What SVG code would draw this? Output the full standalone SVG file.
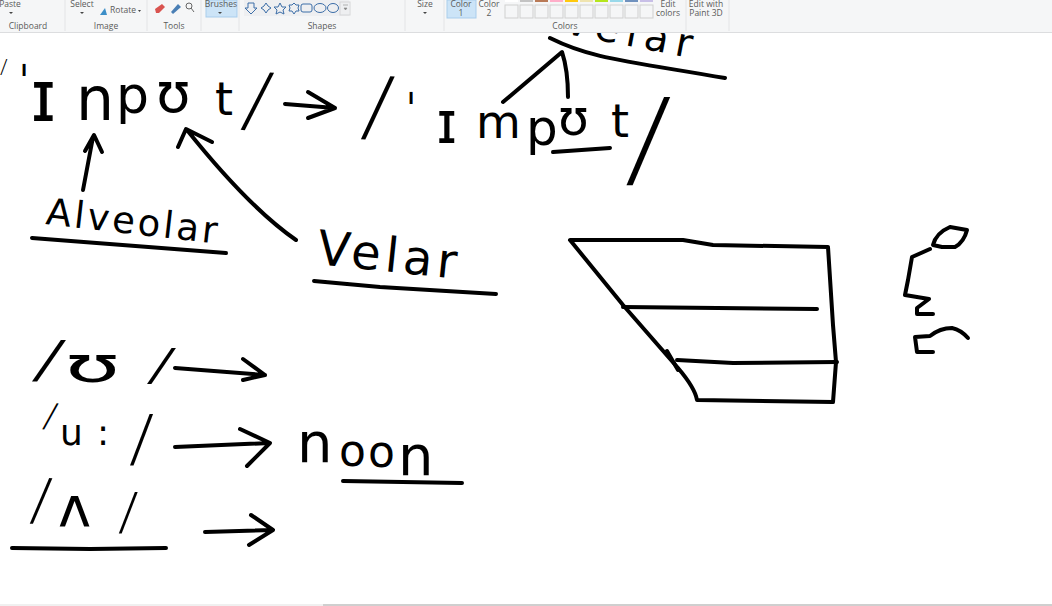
<svg xmlns="http://www.w3.org/2000/svg" width="1052" height="606" viewBox="0 0 1052 606">
<defs><style>
.ink{fill:none;stroke:#000;stroke-width:4;stroke-linecap:round;stroke-linejoin:round}
.w{font-family:"DejaVu Sans",sans-serif;fill:#000}
.sl{font-family:"Roboto","Liberation Sans",sans-serif;font-weight:300}
.r{font-family:"Open Sans","Liberation Sans",sans-serif;font-size:8.5px;fill:#5a5a5a;text-anchor:middle}
.sw{fill:#f5f6f7;stroke:#cfcfcf;stroke-width:1}
.sep{stroke:#e3e4e6;stroke-width:1}
.ic{fill:none;stroke:#3c6ea8;stroke-width:1}
</style></defs>
<rect width="1052" height="606" fill="#fff"/>

<g id="word-velar-top"><text class="w" font-size="40" transform="translate(562,33) rotate(11)" textLength="130">Velar</text></g>

<g id="ribbon">
<rect width="1052" height="32" fill="#f5f6f7"/>
<rect y="32" width="1052" height="1" fill="#dcdddf"/>
<g>
<line class="sep" x1="65" y1="0" x2="65" y2="31"/><line class="sep" x1="147" y1="0" x2="147" y2="31"/><line class="sep" x1="201" y1="0" x2="201" y2="31"/><line class="sep" x1="239" y1="0" x2="239" y2="31"/><line class="sep" x1="405" y1="0" x2="405" y2="31"/><line class="sep" x1="444" y1="0" x2="444" y2="31"/><line class="sep" x1="686" y1="0" x2="686" y2="31"/><line class="sep" x1="729" y1="0" x2="729" y2="31"/>
</g>
<rect x="206" y="0" width="31" height="17" fill="#cce4f7" stroke="#a9cdec"/>
<rect x="447" y="0" width="29" height="18" fill="#cce4f7" stroke="#a9cdec"/>
<rect x="244" y="0" width="105" height="16" fill="#eeeff1"/>
<text class="r" x="10" y="7">Paste</text><text class="r" x="82" y="7">Select</text><text class="r" x="123" y="13">Rotate</text><text class="r" x="221" y="7">Brushes</text><text class="r" x="425" y="7">Size</text>
<text class="r" x="461" y="7">Color</text><text class="r" x="461" y="16">1</text><text class="r" x="489" y="7">Color</text><text class="r" x="489" y="16">2</text>
<text class="r" x="668" y="7">Edit</text><text class="r" x="668" y="16">colors</text><text class="r" x="706" y="7">Edit with</text><text class="r" x="706" y="16">Paint 3D</text>
<text class="r" x="28" y="29">Clipboard</text><text class="r" x="106" y="29">Image</text><text class="r" x="174" y="29">Tools</text><text class="r" x="322" y="29">Shapes</text><text class="r" x="565" y="29">Colors</text>
<path d="M9 12h4l-2 2zM80 12h4l-2 2zM218 12h4l-2 2zM423 12h4l-2 2zM138 10h3l-1.500 2z" fill="#444"/>
<path d="M100 15l5-7 2 7z" fill="#3c8fc8"/>
<path d="M155 9l7-5 3 3-6 6h-3z" fill="#d9534f"/><path d="M171 12l7-8 3 3-8 7z" fill="#4a7fb5"/><circle cx="189" cy="6" r="3" fill="none" stroke="#666"/><path d="M191 8l3 4" stroke="#666"/>
<path class="ic" d="M248 3h6v5h3l-6 6-6-6h3zM266 3l2 3 3 2-3 2-2 3-2-3-3-2 3-2zM280 3l2 4 4 0-3 3 1 4-4-2-4 2 1-4-3-3 4 0zM294 3l2 2h3l-1 3 1 3h-3l-2 3-2-3h-3l1-3-1-3h3z"/>
<rect class="ic" x="301" y="4" width="11" height="8" rx="2"/><ellipse class="ic" cx="320" cy="8" rx="6" ry="4.500"/><ellipse class="ic" cx="333" cy="8" rx="5.500" ry="4.500"/>
<path d="M343 5h5M344 8h3l-1.500 2z" stroke="#888" fill="#888" stroke-width=".6"/>
<rect x="340" y="2" width="10" height="13" fill="none" stroke="#d5d6d8"/>
<g>
<rect class="sw" x="505" y="5" width="13" height="13"/><rect class="sw" x="520" y="5" width="13" height="13"/><rect class="sw" x="535" y="5" width="13" height="13"/><rect class="sw" x="550" y="5" width="13" height="13"/><rect class="sw" x="565" y="5" width="13" height="13"/><rect class="sw" x="580" y="5" width="13" height="13"/><rect class="sw" x="595" y="5" width="13" height="13"/><rect class="sw" x="610" y="5" width="13" height="13"/><rect class="sw" x="625" y="5" width="13" height="13"/><rect class="sw" x="640" y="5" width="13" height="13"/>
<rect x="505" y="0" width="13" height="2" fill="#fff"/><rect x="520" y="0" width="13" height="2" fill="#c3c3c3"/><rect x="535" y="0" width="13" height="2" fill="#b97a57"/><rect x="550" y="0" width="13" height="2" fill="#ffaec9"/><rect x="565" y="0" width="13" height="2" fill="#ffc90e"/><rect x="580" y="0" width="13" height="2" fill="#efe4b0"/><rect x="595" y="0" width="13" height="2" fill="#b5e61d"/><rect x="610" y="0" width="13" height="2" fill="#99d9ea"/><rect x="625" y="0" width="13" height="2" fill="#7092be"/><rect x="640" y="0" width="13" height="2" fill="#c8bfe7"/>
</g>
</g>

<g id="word-input"><text class="w" font-size="62"><tspan class="sl" x="0" y="74" font-size="20">/</tspan><tspan x="18" y="98" font-size="44">ˈ</tspan><tspan x="30" y="121" font-size="72">ɪ</tspan><tspan x="76" y="120" font-size="60">n</tspan><tspan x="116" y="113" font-size="52">p</tspan><tspan x="156" y="112" font-size="56">ʊ</tspan><tspan x="215" y="115" font-size="46">t</tspan><tspan class="sl" x="240" y="125" font-size="78" rotate="6">/</tspan></text></g>
<g id="word-import"><text class="w" font-size="54"><tspan class="sl" x="360" y="134" font-size="84" rotate="4">/</tspan><tspan x="405" y="126" font-size="44">ˈ</tspan><tspan x="436" y="143" font-size="58">ɪ</tspan><tspan x="476" y="138" font-size="46">m</tspan><tspan x="526" y="145" font-size="50">p</tspan><tspan x="558" y="135" font-size="50">ʊ</tspan><tspan x="611" y="137" font-size="46">t</tspan><tspan class="sl" x="625" y="178" font-size="116" rotate="2">/</tspan></text></g>
<g id="word-alveolar"><text class="w" font-size="37" transform="translate(45,224) rotate(6.500)" textLength="172">Alveolar</text></g>
<g id="word-velar"><text class="w" font-size="48" transform="translate(316,264) rotate(6)" textLength="140">Velar</text></g>
<g id="phoneme-short-u"><text class="w" font-size="50" transform="scale(1.8,1)"><tspan class="sl" x="17" y="378" font-size="54">/</tspan><tspan x="36" y="382">ʊ</tspan><tspan class="sl" x="81" y="381" font-size="46">/</tspan></text></g>
<g id="phoneme-long-u"><text class="w" font-size="36"><tspan class="sl" x="42" y="427" rotate="8">/</tspan><tspan x="60" y="445">u</tspan><tspan x="97" y="445">:</tspan><tspan class="sl" x="129" y="462" font-size="66">/</tspan></text></g>
<g id="phoneme-wedge"><text class="w" font-size="56"><tspan class="sl" x="29" y="520" font-size="60" rotate="2">/</tspan><tspan x="58" y="526">ʌ</tspan><tspan class="sl" x="118" y="530" font-size="54">/</tspan></text></g>
<g id="word-noon"><text class="w" font-size="56"><tspan x="297" y="462">n</tspan><tspan x="339" y="466" font-size="44">o</tspan><tspan x="368" y="467" font-size="44">o</tspan><tspan x="398" y="475">n</tspan></text></g>

<g id="connectors" class="ink">
<path d="M285 104L335 108M308 92L335 108L308 118"/>
<path d="M83 190L93 137M85 151L94 135L102 152"/>
<path d="M296 240C270 222 235 190 187 130M178 147L186 129L212 142"/>
<path d="M503 102L562 52Q568 70 568 97M550 38C590 58 620 60 725 78"/>
<path d="M553 152L610 148"/>
<path d="M32 238L226 253"/>
<path d="M314 281L380 287L496 294"/>
<path d="M175 368L265 375M243 359L265 375L243 380"/>
<path d="M175 447L270 443M240 429L270 443L247 466"/>
<path d="M205 532L273 530M251 515L273 530L249 545"/>
<path d="M343 481L462 483"/>
<path d="M12 548L90 549L166 548"/>
</g>

<g id="vowel-trapezoid" class="ink">
<path d="M570 240L627 240L683 240L713 245L828 247L833 325L836 362L833 402L697 400Q695 388 678 368L623 305Z"/>
<path d="M623 307L817 309M677 360L733 363L837 362M667 351L678 370"/>
</g>
<g id="side-marks" class="ink">
<path d="M933 245Q936 233 950 227L967 230Q964 242 955 247L942 247Z"/>
<path d="M930 249L912 257L908 280L905 295L929 299L917 308L917 314L933 314"/>
<path d="M933 352L917 352L915 337L930 336Q940 328 952 328Q961 330 968 338"/>
</g>
<rect y="604" width="323" height="2" fill="#f0f0f0"/>
<rect x="323" y="604" width="729" height="2" fill="#cfcfcf"/>
</svg>
